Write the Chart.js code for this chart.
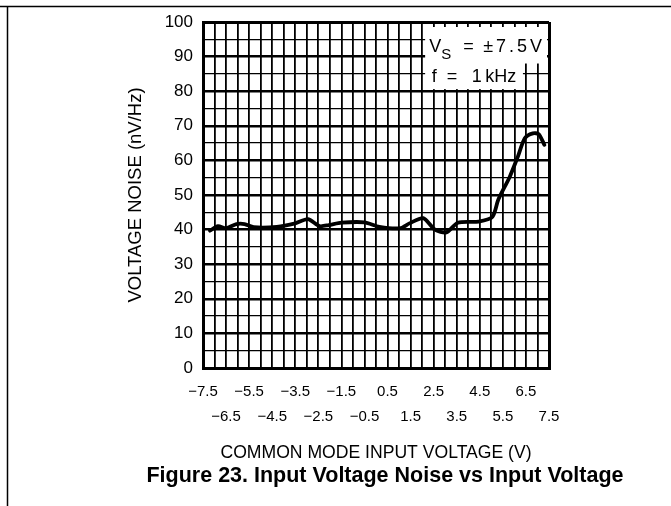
<!DOCTYPE html>
<html>
<head>
<meta charset="utf-8">
<script src="https://cdn.jsdelivr.net/npm/chart.js@4.4.0/dist/chart.umd.min.js"></script>
<style>
  html, body { margin: 0; padding: 0; background: #fff; }
  #wrap { position: relative; width: 671px; height: 506px; }
  #caption {
    position: absolute; left: 85px; top: 463px; width: 600px; height: 43px;
    text-align: center; font: bold 21.5px/25px "Liberation Sans", Arial, sans-serif; color: #000;
  }
</style>
</head>
<body>
<div id="wrap">
  <canvas id="noiseChart" width="671" height="506"></canvas>
  <div id="caption"></div>
</div>
<script>
// Common mode input voltage (V)
var voltage = [-7.2, -6.85, -6.5, -6.05, -5.7, -5.3, -4.3, -3.5, -2.95, -2.45,
  -2.05, -1.5, -0.5, 0.15, 1.05, 1.45, 2.05, 2.55, 3.05, 3.55,
  4.45, 5.05, 5.3, 5.8, 6.15, 6.45, 6.8, 7.05, 7.3];
// Voltage noise (nV/√Hz)
var noise = [39.7, 41.0, 40.4, 41.6, 41.6, 40.7, 40.8, 41.8, 43.0, 41.0,
  41.3, 42.0, 42.1, 40.8, 40.4, 41.8, 43.3, 40.0, 39.2, 42.0,
  42.3, 43.7, 48.6, 55.3, 61.1, 66.4, 67.8, 67.6, 64.5];

var xMin = -7.5, xMax = 7.5, xStep = 0.5;
var yMin = 0, yMax = 100, yStep = 5;

var xTitle = "COMMON MODE INPUT VOLTAGE (V)";
var yTitle = "VOLTAGE NOISE (nV/Hz)";
var caption = "Figure 23. Input Voltage Noise vs Input Voltage";

var fontFamily = '"Liberation Sans", Arial, sans-serif';

document.getElementById("caption").textContent = caption;

// рамка страницы: линия сверху и слева
var framePlugin = {
  id: "frame",
  beforeDraw: function (chart) {
    var c = chart.ctx;
    c.save();
    c.fillStyle = "#fff";
    c.fillRect(0, 0, chart.width, chart.height);
    c.strokeStyle = "#000";
    c.lineWidth = 1.5;
    c.beginPath();
    c.moveTo(0, 6.5);
    c.lineTo(chart.width, 6.5);
    c.moveTo(7.5, 6.5);
    c.lineTo(7.5, chart.height);
    c.stroke();
    c.restore();
  }
};

// белая табличка с условиями измерения
var conditionsPlugin = {
  id: "conditions",
  beforeDatasetsDraw: function (chart) {
    var x = chart.scales.x, y = chart.scales.y, c = chart.ctx;
    var left = x.getPixelForValue(2.0) + 3;
    var mid = y.getPixelForValue(88);
    var low = y.getPixelForValue(80.6);
    c.save();
    c.fillStyle = "#fff";
    c.fillRect(left, y.top + 5, x.right - 2 - left, mid - y.top - 5);
    c.fillRect(left, mid - 1, x.getPixelForValue(6.5) - 3 - left, low - mid + 1);

    var x0 = x.getPixelForValue(2.0);
    var b1 = y.getPixelForValue(91.3);
    var b2 = y.getPixelForValue(82.7);
    c.fillStyle = "#000";
    c.textBaseline = "alphabetic";
    c.textAlign = "left";
    c.font = "18px " + fontFamily;
    c.fillText("V", x0 + 7, b1);
    c.fillText("=", x0 + 41, b1);
    c.letterSpacing = "3px";
    c.fillText("\u00b17.5V", x0 + 61, b1);
    c.letterSpacing = "0px";
    c.fillText("f", x0 + 9.5, b2);
    c.fillText("=", x0 + 24.5, b2);
    c.fillText("1", x0 + 49.5, b2);
    c.fillText("kHz", x0 + 63, b2);
    c.font = "15px " + fontFamily;
    c.fillText("S", x0 + 19, b1 + 7);
    c.restore();
  }
};

var ctx = document.getElementById("noiseChart").getContext("2d");
var chart = new Chart(ctx, {
  type: "line",
  data: {
    datasets: [
      {
        data: voltage.map(function (v, i) { return { x: v, y: noise[i] }; }),
        borderColor: "#000",
        borderWidth: 3.8,
        pointRadius: 0,
        fill: false,
        tension: 0.25,
        borderJoinStyle: "round",
        borderCapStyle: "round"
      }
    ]
  },
  options: {
    responsive: false,
    animation: false,
    layout: { padding: { left: 0, right: 122, top: 22, bottom: 43 } },
    plugins: {
      legend: { display: false },
      tooltip: { enabled: false },
      title: { display: false }
    },
    scales: {
      x: {
        type: "linear",
        min: xMin,
        max: xMax,
        afterFit: function (scale) { scale.height = 95; },
        grid: {
          color: "#000",
          drawTicks: false,
          lineWidth: function (c) {
            var v = c.tick ? c.tick.value : 0;
            return (v === xMin || v === xMax) ? 3 : 1.8;
          }
        },
        border: { color: "#000", width: 3 },
        ticks: {
          stepSize: xStep,
          maxTicksLimit: 100,
          autoSkip: false,
          maxRotation: 0,
          minRotation: 0,
          padding: 11,
          color: "#000",
          font: { family: fontFamily, size: 15, lineHeight: 25 / 15 },
          callback: function (value) {
            var half = Math.round(value * 2);
            if (Math.abs(half) % 2 === 0) return "";
            var text = value.toFixed(1).replace("-", "\u2212");
            return Math.round(value - xMin) % 2 === 0 ? [text, ""] : ["", text];
          }
        },
        title: {
          display: true,
          text: xTitle,
          color: "#000",
          font: { family: fontFamily, size: 17.6, lineHeight: 1 },
          padding: { top: 0, bottom: 1 }
        }
      },
      y: {
        min: yMin,
        max: yMax,
        afterFit: function (scale) { scale.width = 203; },
        grid: {
          color: "#000",
          drawTicks: false,
          lineWidth: function (c) {
            var v = c.tick ? c.tick.value : 0;
            if (v === yMax) return 3;
            return v % 10 === 0 ? 2.4 : 1.3;
          }
        },
        border: { color: "#000", width: 3 },
        ticks: {
          stepSize: yStep,
          maxTicksLimit: 100,
          autoSkip: false,
          padding: 10,
          color: "#000",
          font: { family: fontFamily, size: 17 },
          callback: function (value) {
            return value % 10 === 0 ? String(value) : "";
          }
        },
        title: {
          display: true,
          text: yTitle,
          color: "#000",
          font: { family: fontFamily, size: 18.5, lineHeight: 1.2 },
          padding: { top: 124.4, bottom: 0 }
        }
      }
    }
  },
  plugins: [framePlugin, conditionsPlugin]
});
</script>
</body>
</html>
